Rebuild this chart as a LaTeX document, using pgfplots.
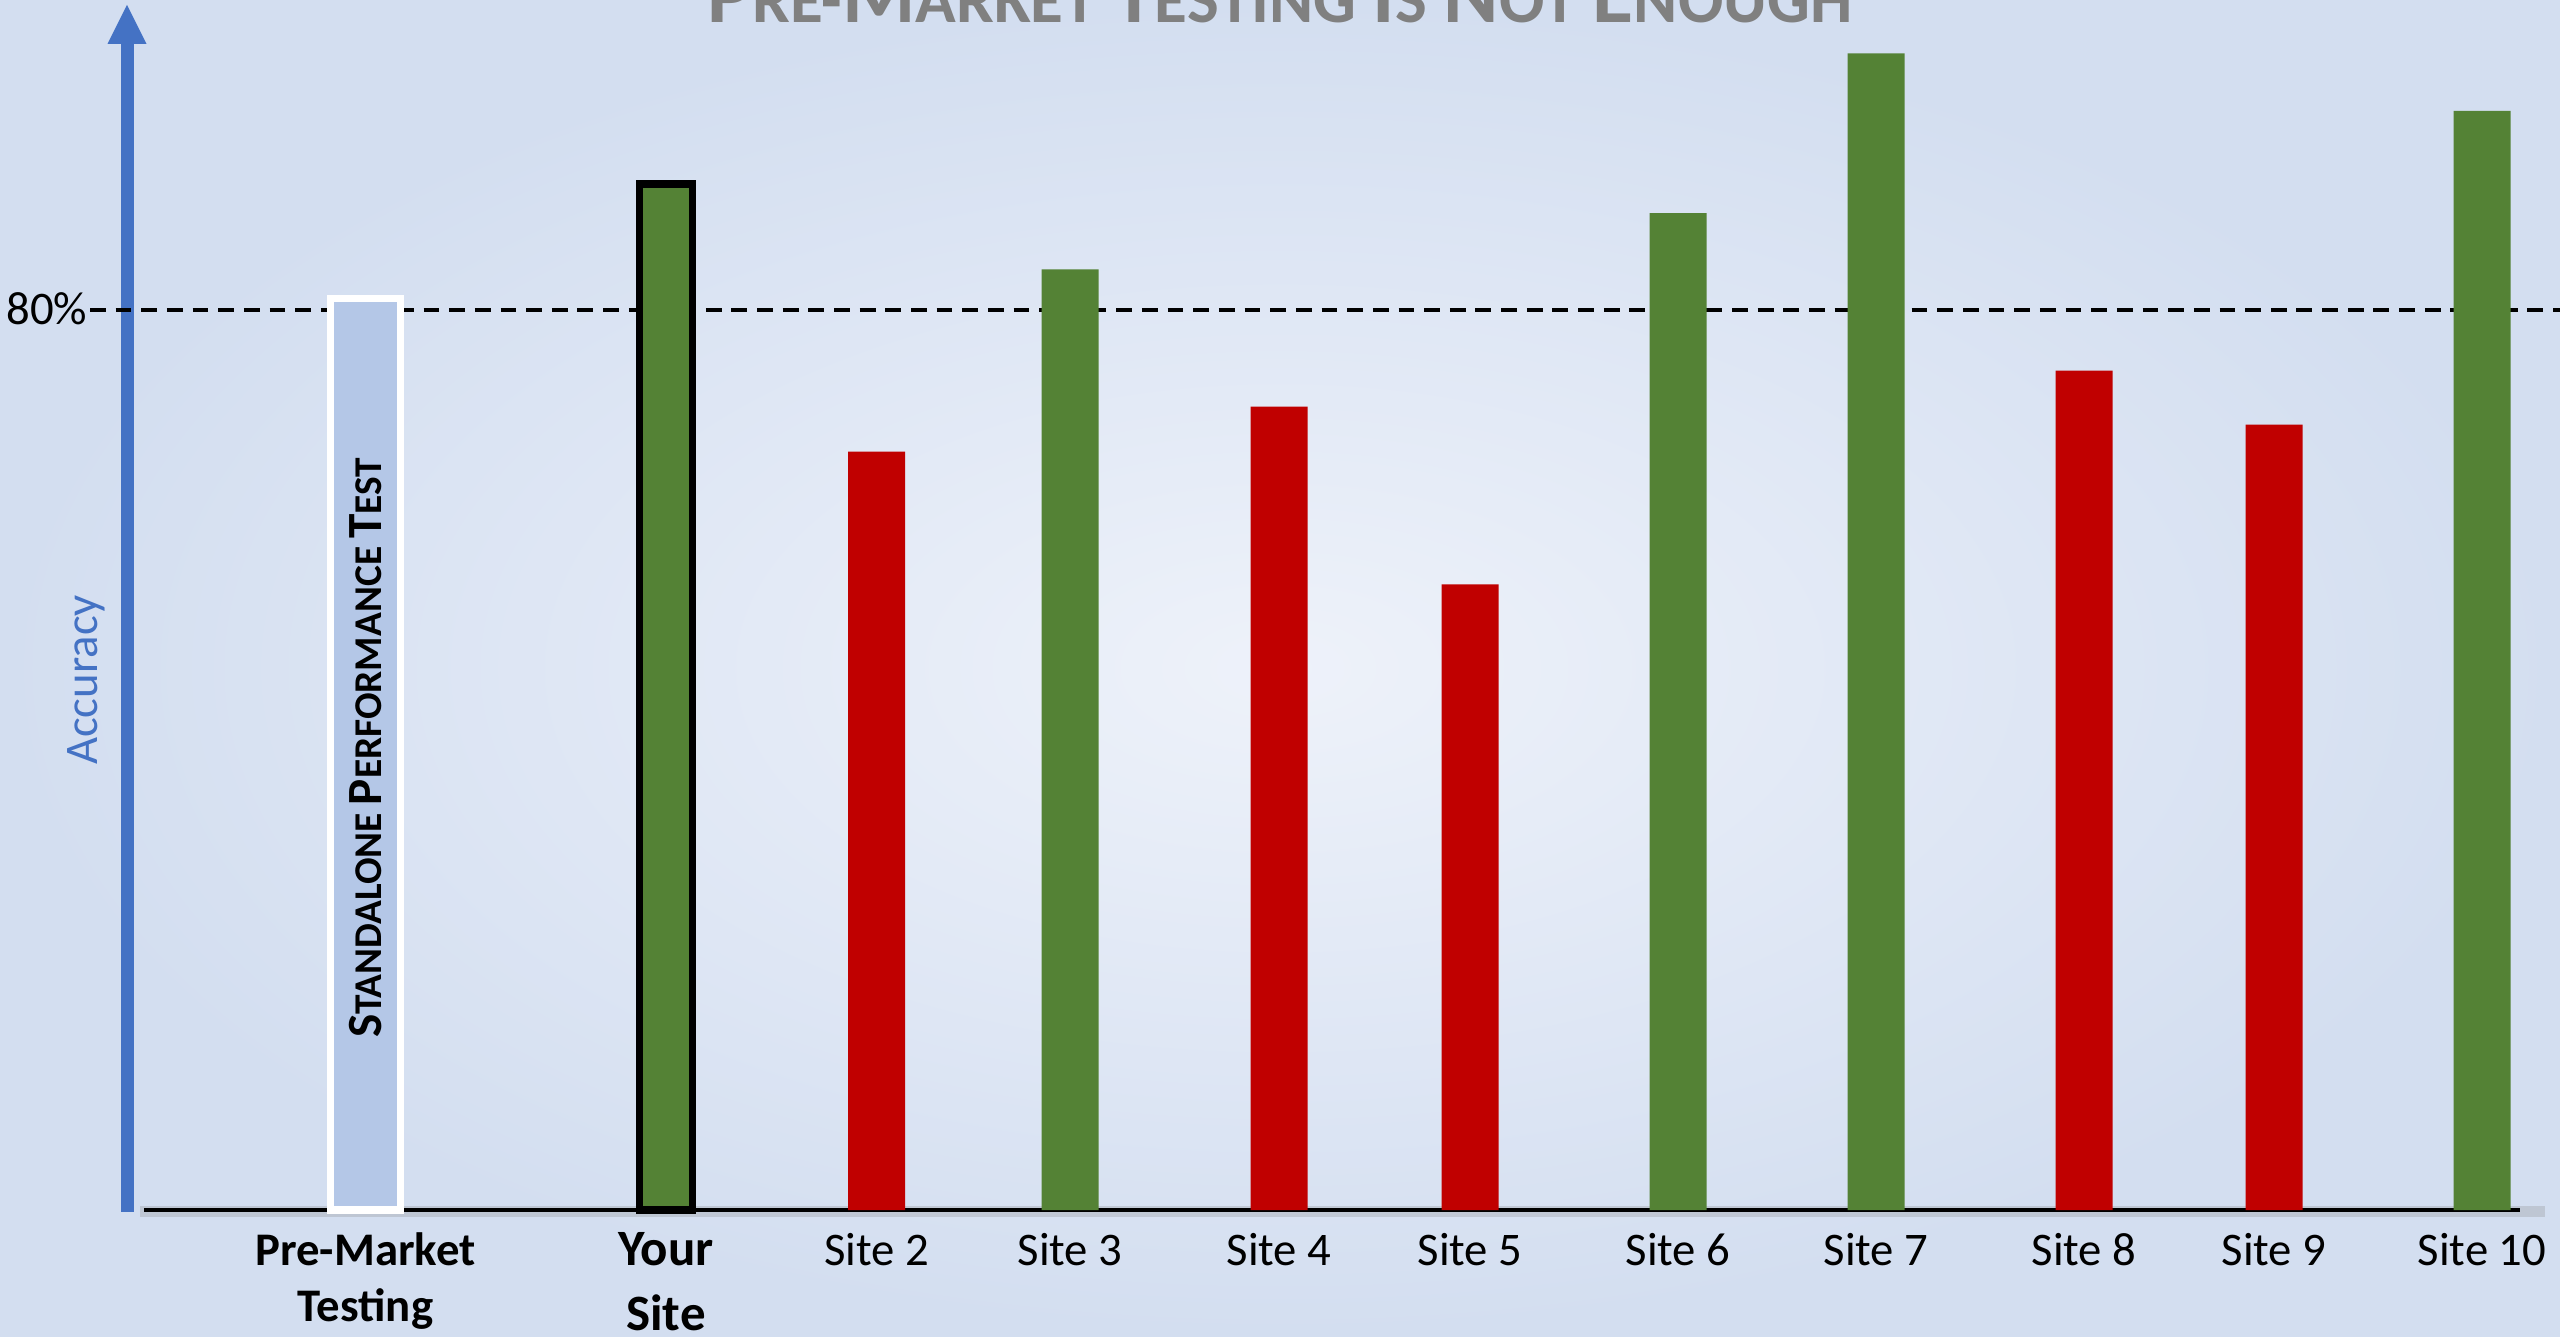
\documentclass[border=0pt]{standalone}
\usepackage{pgfplots}
\pgfplotsset{compat=1.18}
\usepackage{fontspec}
\setmainfont{Carlito}
\definecolor{bgin}{RGB}{238,242,250}
\definecolor{bgout}{RGB}{211,222,240}
\definecolor{axblue}{RGB}{68,114,196}
\definecolor{grn}{RGB}{84,130,53}
\definecolor{rd}{RGB}{192,0,0}
\definecolor{pm}{RGB}{180,199,231}
\definecolor{ttl}{RGB}{128,128,128}
\newcommand\tiL[1]{{\fontsize{23.9}{28}\selectfont #1}}
\newcommand\tiS[1]{{\fontsize{19.1}{22}\selectfont #1}}
\newcommand\stL[1]{{\fontsize{14}{16}\selectfont #1}}
\newcommand\stS[1]{{\fontsize{11.2}{13}\selectfont #1}}
\begin{document}
\begin{tikzpicture}
\useasboundingbox (0,-1.26) rectangle (25.6,12.10);
\clip (0,-1.26) rectangle (25.6,12.10);
\shade[inner color=bgin, outer color=bgout] (0,-1.26) rectangle (25.6,12.10);
% axis arrow
\fill[axblue] (1.205,-0.02) rectangle (1.335,11.67);
\fill[axblue] (1.075,11.66) -- (1.465,11.66) -- (1.27,12.05) -- cycle;
\begin{axis}[
  at={(0.9cm,0cm)}, anchor=south west,
  scale only axis, width=24.7cm, height=12.1cm,
  xmin=90, xmax=2560, ymin=0, ymax=107.5556,
  clip=false,
  axis line style={draw=none},
  major tick length=0pt,
  xtick={365.5,666,876.5,1070,1279,1470,1678,1876,2084,2274,2482},
  xticklabels={
    {\fontsize{13.3}{16.2}\selectfont\bfseries\begin{tabular}[t]{@{}c@{}}Pre-Market\\Testing\end{tabular}},
    {\fontsize{14.5}{18.5}\selectfont\bfseries\begin{tabular}[t]{@{}c@{}}Your\\Site\end{tabular}},
    Site 2, Site 3, Site 4, Site 5, Site 6, Site 7, Site 8, Site 9, Site 10},
  xticklabel style={font=\fontsize{13.3}{16}\selectfont, anchor=base, yshift=-0.55cm, inner sep=0pt},
  ytick={80}, yticklabels={80\%},
  yticklabel style={font=\fontsize{13.3}{16}\selectfont, anchor=base east, inner sep=0pt, xshift=-0.02cm, yshift=-0.15cm},
  ylabel={Accuracy},
  ylabel style={at={(axis description cs:-0.0016,0.438)}, rotate=0, anchor=center, font=\fontsize{13.3}{16}\selectfont, text=axblue},
  every axis title shift=0pt,
  title={\bfseries\tiL{P}\tiS{RE-}\tiL{M}\tiS{ARKET} \tiL{T}\tiS{ESTING} \tiL{I}\tiS{S} \tiL{N}\tiS{OT} \tiL{E}\tiS{NOUGH}},
  title style={at={(axis description cs:0.4818,0.981)}, anchor=base, text=ttl, font=\fontsize{21}{24}\selectfont, inner sep=0pt},
]
% baseline shadow and line
\addplot[gray, opacity=0.25, line width=3pt, mark=none, forget plot] coordinates {(140,-0.12) (2545,-0.12)};
\addplot[black, line width=1.3pt, mark=none, forget plot] coordinates {(144,0) (2520,0)};
% dashed 80% line
\addplot[black, line width=1.2pt, dash pattern=on 4.5pt off 2.8pt, mark=none, forget plot] coordinates {(90,80) (2560,80)};
% pre-market bar
\addplot[ybar, bar shift=0pt, bar width=70, fill=pm, draw=white, line width=2pt] coordinates {(365.5,81.0)};
% your site bar
\addplot[ybar, bar shift=0pt, bar width=53, fill=grn, draw=black, line width=2pt] coordinates {(666,91.2)};
% green sites
\addplot[ybar, bar shift=0pt, bar width=57, fill=grn, draw=none] coordinates {(1070,83.6) (1678,88.6) (1876,102.8) (2482,97.7)};
% red sites
\addplot[ybar, bar shift=0pt, bar width=57, fill=rd, draw=none] coordinates {(876.5,67.4) (1279,71.4) (1470,55.6) (2084,74.6) (2274,69.8)};
\node[rotate=90, anchor=center, inner sep=0pt] at (axis cs:366,41.07) {\bfseries\stL{S}\stS{TANDALONE} \stL{P}\stS{ERFORMANCE} \stL{T}\stS{EST}};
\end{axis}
\end{tikzpicture}
\end{document}
